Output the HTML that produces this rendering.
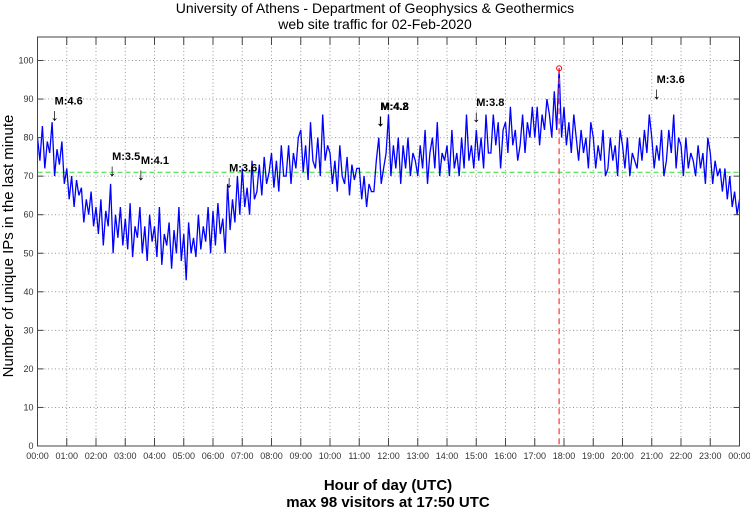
<!DOCTYPE html>
<html><head><meta charset="utf-8"><style>
body{margin:0;background:#fff;}
svg{display:block;font-family:"Liberation Sans",sans-serif;}
</style></head><body>
<svg id="chart" width="750" height="511">
<text x="375" y="13" text-anchor="middle" font-size="14">University of Athens - Department of Geophysics &amp; Geothermics</text>
<text x="375" y="29" text-anchor="middle" font-size="14">web site traffic for 02-Feb-2020</text>
<g id="grid"></g>
<g id="series"></g>
<g id="marks"></g>
<g id="axes"></g>
<text x="388" y="490" text-anchor="middle" font-size="15" font-weight="bold">Hour of day (UTC)</text>
<text x="388" y="507" text-anchor="middle" font-size="15" font-weight="bold">max 98 visitors at 17:50 UTC</text>
<text transform="translate(13,246) rotate(-90)" text-anchor="middle" font-size="15">Number of unique IPs in the last minute</text>
</svg>
<script>
const yTicks=[0,10,20,30,40,50,60,70,80,90,100];
const xTickLabels=["00:00","01:00","02:00","03:00","04:00","05:00","06:00","07:00","08:00","09:00","10:00","11:00","12:00","13:00","14:00","15:00","16:00","17:00","18:00","19:00","20:00","21:00","22:00","23:00","00:00"];
const visitors=[80,74,83,72,79,76,84,70,77,73,79,68,72,64,70,62,69,65,67,58,64,60,66,57,62,55,64,52,61,57,68,50,60,54,62,52,59,51,63,49,57,54,62,50,57,48,60,53,57,49,62,47,55,52,58,46,56,50,62,48,55,43,58,50,54,49,60,51,57,53,62,50,61,52,63,55,59,50,68,56,64,58,70,60,72,62,67,60,74,64,66,73,65,75,68,71,76,67,74,66,78,70,70,78,68,76,72,80,82,71,78,69,84,74,72,80,70,86,74,78,76,68,74,66,78,70,68,75,65,73,69,72,72,64,70,62,68,66,66,74,80,68,72,76,86,70,78,72,80,68,78,72,80,70,76,74,70,78,72,82,68,76,80,72,84,70,76,74,78,70,82,72,76,70,80,72,86,74,78,72,82,74,80,72,86,76,76,86,78,84,72,82,84,76,88,78,82,74,78,86,76,84,80,88,80,88,78,86,82,90,86,80,92,82,98,80,88,78,84,76,86,80,74,82,76,80,72,84,80,72,78,74,82,70,72,80,74,78,70,82,78,72,80,70,76,74,72,80,74,82,76,86,80,72,78,74,82,70,74,82,76,86,72,80,78,70,80,72,76,74,70,78,72,76,68,80,76,68,74,70,72,66,72,64,70,62,66,60,64];
const minuteStep=5;
const avgLine=71;
const peakMinute=1070, peakValue=98;
const quakeLabels=["M:4.6","M:3.5","M:4.1","M:3.6","M:4.2","M:4.8","M:3.8","M:3.6"];
const quakeMinutes=[35,153,212,393,703,704,900,1270];
const quakeLevels=[84.5,70,69,67,83,83,84,90];

const L=37.5,R=739.5,T=37,B=446;
const xs=m=>L+(R-L)*m/1440;
const ys=v=>B-(B-60.5)*v/100;
const NS="http://www.w3.org/2000/svg";
function mk(parent,tag,attrs){const e=document.createElementNS(NS,tag);for(const k in attrs)e.setAttribute(k,attrs[k]);parent.appendChild(e);return e;}
const grid=document.getElementById('grid'),axes=document.getElementById('axes'),ser=document.getElementById('series'),marks=document.getElementById('marks');
yTicks.forEach(v=>{
  if(v>0){const g=mk(grid,'line',{x1:L,x2:R,y1:ys(v),y2:ys(v),stroke:'#999',"stroke-dasharray":'1,2.5'});
  
  }
  const t=mk(axes,'line',{x1:L,x2:L+6,y1:ys(v),y2:ys(v),stroke:'#444'});
  
  
  const t2=mk(axes,'line',{x1:R-6,x2:R,y1:ys(v),y2:ys(v),stroke:'#444'});
  
  
  const lb=mk(axes,'text',{x:L-4,y:ys(v)+3,"text-anchor":'end',"font-size":'9',fill:'#333'});
  lb.textContent=v;
  
  
});
xTickLabels.forEach((s,i)=>{
  const x=xs(i*60);
  if(i>0&&i<24){const g=mk(grid,'line',{x1:x,x2:x,y1:T,y2:B,stroke:'#999',"stroke-dasharray":'1,2.5'});
  
  }
  const t=mk(axes,'line',{x1:x,x2:x,y1:B-8,y2:B,stroke:'#444'});
  
  
  const t2=mk(axes,'line',{x1:x,x2:x,y1:T,y2:T+8,stroke:'#444'});
  
  
  const lb=mk(axes,'text',{x:x,y:B+13,"text-anchor":'middle',"font-size":'9',fill:'#333'});
  lb.textContent=s;
  
  
});
const fr=mk(axes,'rect',{x:L,y:T,width:R-L,height:B-T,fill:'none',stroke:'#444'});


const av=mk(ser,'line',{x1:L,x2:R,y1:ys(avgLine),y2:ys(avgLine),stroke:'#3d3',"stroke-dasharray":'5,3'});


const pts=visitors.map((v,i)=>xs(i*minuteStep).toFixed(1)+','+ys(v).toFixed(1)).join(' ');
const pl=mk(ser,'polyline',{points:pts,fill:'none',stroke:'#00f',"stroke-width":'1.3'});


const pk=mk(ser,'line',{x1:xs(peakMinute),x2:xs(peakMinute),y1:ys(peakValue),y2:B,stroke:'#f44',"stroke-width":'1.3',"stroke-dasharray":'6,4'});


const pc=mk(ser,'circle',{cx:xs(peakMinute),cy:ys(peakValue),r:2.5,fill:'none',stroke:'#f00'});


quakeLabels.forEach((s,i)=>{
  const x=xs(quakeMinutes[i]),y=ys(quakeLevels[i]);
  const a=mk(marks,'text',{x:x,y:y,"text-anchor":'middle',"font-size":'17'});
  a.textContent='↓';
  
  
  const t=mk(marks,'text',{x:x,y:y-16,"font-size":'11',"font-weight":'bold'});
  t.textContent=s;
  
  
});
</script>
</body></html>
